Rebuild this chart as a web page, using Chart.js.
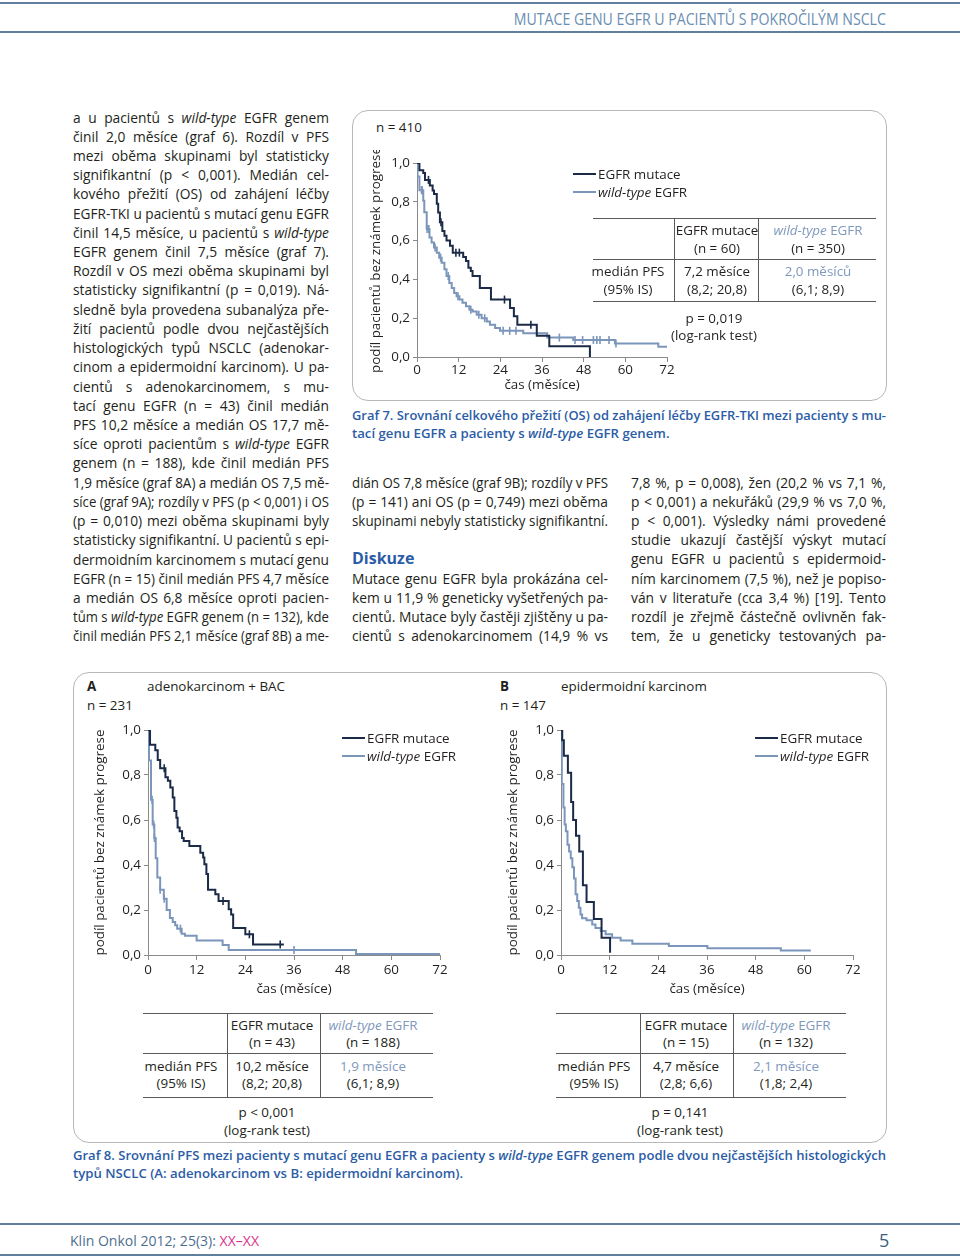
<!DOCTYPE html>
<html lang="cs">
<head>
<meta charset="utf-8">
<title>Mutace genu EGFR u pacientů s pokročilým NSCLC</title>
<script src="https://cdn.jsdelivr.net/npm/chart.js@4.4.1/dist/chart.umd.min.js"></script>
<style>
  html, body { margin: 0; padding: 0; background: #fff; }
  #page { position: relative; width: 960px; height: 1257px; overflow: hidden;
          font-family: 'Open Sans', sans-serif; color: #231f20; }
  .ln { position: absolute; white-space: nowrap; font-size: 13.8px; line-height: 19px; height: 19px; }
  .ln > span { display: inline-block; transform-origin: 0 50%; }
  .rule { position: absolute; left: 0; width: 960px; height: 2px; background: #5f7f9c; }
  .box { position: absolute; border: 1px solid #b8b8b8; border-radius: 16px; }
  .hl { position: absolute; height: 1px; background: #5a5a5a; }
  .vl { position: absolute; width: 1px; background: #5a5a5a; }
  .c { position: absolute; white-space: nowrap; font-size: 13.4px; line-height: 18px;
       transform: translate(-50%, -50%); }
  .t { position: absolute; white-space: nowrap; font-size: 13.4px; line-height: 18px; transform: translateY(-50%); }
  .lt { color: #7f98bc; }
  .blue { color: #2b5da6; font-weight: 600; }
  .sw { position: absolute; height: 2px; width: 23px; }
  canvas { position: absolute; }
</style>
</head>
<body>
<div id="page">
  <div class="rule" style="top:2px"></div>
  <div class="rule" style="top:31px"></div>
  <div class="rule" style="top:1223px"></div>
  <div class="rule" style="top:1254px"></div>

  <div class="box" style="left:352px;top:110px;width:533px;height:289px"></div>
  <div class="box" style="left:73px;top:672px;width:812px;height:469px"></div>

  <canvas id="c7" width="323" height="247" style="left:364px;top:150px"></canvas>
  <canvas id="cA" width="372" height="286" style="left:88px;top:715px"></canvas>
  <canvas id="cB" width="372" height="286" style="left:501px;top:715px"></canvas>
</div>
<script>
// osa x (měsíce) a osa y (podíl)
const xTicks = [0, 12, 24, 36, 48, 60, 72];
const xTickLabels = ['0', '12', '24', '36', '48', '60', '72'];
const yTicks = [0, 0.2, 0.4, 0.6, 0.8, 1.0];
const yTickLabels = ['0,0', '0,2', '0,4', '0,6', '0,8', '1,0'];
const seriesNames = ['EGFR mutace', 'wild-type EGFR'];

// Graf 7 (n = 410)
const g7MutTime = [0, 0.7, 1.8, 2.3, 3.7, 4.5, 4.9, 5.7, 6.1, 6.6, 7.3, 7.9, 8.5, 9.5, 10.3, 13.3, 14.1, 14.8, 15.5, 16.0, 18.1, 21.3, 26.8, 27.9, 28.9, 34.5, 38.1, 49.8];
const g7MutSurv = [1.0, 0.962, 0.948, 0.913, 0.884, 0.858, 0.84, 0.79, 0.745, 0.694, 0.65, 0.625, 0.6, 0.573, 0.538, 0.515, 0.495, 0.46, 0.443, 0.417, 0.356, 0.296, 0.253, 0.21, 0.166, 0.11, 0.055, 0];
const g7MutCens = [3.3, 6.9, 11.2, 12.2, 25.2, 32.8];
const g7WtTime = [0, 0.15, 0.7, 1.8, 2.1, 2.8, 3.6, 4.2, 4.9, 5.7, 6.4, 7.1, 7.9, 8.5, 9.3, 10.0, 10.7, 11.4, 12.2, 13.1, 14.1, 15.1, 16.0, 17.2, 18.6, 20.1, 21.0, 22.5, 23.9, 30.6, 37.5, 45.0, 57.0, 69.5, 72];
const g7WtSurv = [1.0, 0.93, 0.86, 0.806, 0.746, 0.66, 0.616, 0.59, 0.564, 0.538, 0.512, 0.486, 0.452, 0.417, 0.382, 0.356, 0.33, 0.313, 0.296, 0.279, 0.261, 0.244, 0.235, 0.218, 0.2, 0.183, 0.166, 0.149, 0.135, 0.123, 0.10, 0.088, 0.07, 0.053, 0.053];
const g7WtCens = [1.3, 1.5, 2.9, 3.4, 5.2, 6.8, 9.0, 11.8, 15.5, 17.8, 19.5, 24.8, 26.7, 28.5, 41.0, 45.5, 47.7, 50.8, 51.8, 52.7, 55.3, 57.3];

// Graf 8A adenokarcinom + BAC (n = 231)
const aMutTime = [0, 0.5, 1.8, 2.4, 3.0, 4.3, 4.9, 5.5, 6.1, 6.5, 7.0, 7.3, 7.8, 8.4, 8.8, 10.2, 12.9, 13.6, 13.9, 14.4, 14.8, 16.6, 17.4, 19.9, 20.5, 21.0, 24.0, 25.9, 33.5];
const aMutSurv = [1.0, 0.935, 0.91, 0.867, 0.83, 0.79, 0.775, 0.745, 0.70, 0.64, 0.61, 0.567, 0.55, 0.52, 0.507, 0.485, 0.455, 0.433, 0.403, 0.36, 0.29, 0.27, 0.24, 0.203, 0.18, 0.12, 0.092, 0.047, 0.047];
const aMutCens = [4.0, 18.5, 25.0, 32.6];
const aWtTime = [0, 0.25, 0.74, 1.15, 1.56, 1.9, 2.3, 3.0, 3.9, 4.6, 5.4, 6.1, 6.7, 7.2, 8.3, 9.1, 12.0, 18.4, 19.9, 51.3, 72];
const aWtSurv = [1.0, 0.865, 0.69, 0.58, 0.52, 0.43, 0.345, 0.29, 0.25, 0.20, 0.165, 0.147, 0.132, 0.117, 0.094, 0.086, 0.064, 0.044, 0.022, 0.005, 0.005];
const aWtCens = [1.0, 1.4, 1.6, 3.0, 4.0, 8.0, 36.0];

// Graf 8B epidermoidní karcinom (n = 147)
const bMutTime = [0, 0.3, 0.7, 1.7, 2.5, 3.0, 3.7, 4.5, 5.4, 6.3, 8.1, 10.0, 12.1];
const bMutSurv = [1.0, 0.955, 0.886, 0.81, 0.68, 0.60, 0.53, 0.46, 0.31, 0.236, 0.16, 0.077, 0.01];
const bMutCens = [];
const bWtTime = [0, 0.2, 0.6, 0.9, 1.2, 1.6, 2.0, 2.4, 2.8, 3.2, 3.6, 4.0, 4.4, 4.8, 5.2, 6.3, 7.7, 8.5, 9.8, 11.0, 12.6, 14.7, 17.6, 26.6, 36.1, 54.2, 61.6];
const bWtSurv = [1.0, 0.76, 0.656, 0.58, 0.55, 0.49, 0.46, 0.43, 0.39, 0.34, 0.27, 0.24, 0.21, 0.18, 0.163, 0.154, 0.136, 0.12, 0.107, 0.092, 0.077, 0.065, 0.05, 0.04, 0.03, 0.02, 0.02];
const bWtCens = [];

const COL_MUT = '#1b2a47';
const COL_WT = '#7b95bb';
const TXT = '#231f20';
const FONT = "'Open Sans', sans-serif";

Chart.defaults.font.family = FONT;
Chart.defaults.font.size = 13.4;
Chart.defaults.color = TXT;

function steps(t, s) { return t.map((x, i) => ({ x: x, y: s[i] })); }
function survAt(t, s, x) {
  let v = s[0];
  for (let i = 0; i < t.length; i++) if (t[i] <= x) v = s[i];
  return v;
}
function marks(t, s, c) { return c.map(x => ({ x: x, y: survAt(t, s, x) })); }

function drawKM(id, yw, xh, padTop, xPad, mutT, mutS, mutC, wtT, wtS, wtC) {
  const axisCol = '#8a8a8a';
  return new Chart(document.getElementById(id), {
    type: 'line',
    data: {
      datasets: [
        { label: seriesNames[0], data: steps(mutT, mutS), stepped: true, borderColor: COL_MUT, borderWidth: 2, pointRadius: 0, fill: false },
        { label: 'cens1', data: marks(mutT, mutS, mutC), showLine: false, pointStyle: 'line', pointRadius: 4,
          pointRotation: 90, pointBorderColor: COL_MUT, borderColor: COL_MUT, pointBorderWidth: 1.6 },
        { label: seriesNames[1], data: steps(wtT, wtS), stepped: true, borderColor: COL_WT, borderWidth: 2, pointRadius: 0, fill: false },
        { label: 'cens2', data: marks(wtT, wtS, wtC), showLine: false, pointStyle: 'line', pointRadius: 4,
          pointRotation: 90, pointBorderColor: COL_WT, borderColor: COL_WT, pointBorderWidth: 1.6 }
      ]
    },
    options: {
      responsive: false,
      animation: false,
      events: [],
      layout: { padding: { top: padTop, right: 20, left: 0, bottom: 0 } },
      plugins: { legend: { display: false }, tooltip: { enabled: false } },
      scales: {
        x: {
          type: 'linear', min: 0, max: 72,
          afterBuildTicks: s => { s.ticks = xTicks.map(v => ({ value: v })); },
          afterFit: s => { s.height = xh; },
          ticks: { autoSkip: false, maxRotation: 0, padding: xPad, callback: (v, i) => xTickLabels[i] },
          grid: { drawOnChartArea: false, drawTicks: true, tickLength: 5, color: axisCol },
          border: { color: axisCol, width: 1 },
          title: { display: true, text: 'čas (měsíce)', padding: { top: 0, bottom: 4 } }
        },
        y: {
          type: 'linear', min: 0, max: 1,
          afterBuildTicks: s => { s.ticks = yTicks.map(v => ({ value: v })); },
          afterFit: s => { s.width = yw; },
          ticks: { autoSkip: false, padding: 3, callback: (v, i) => yTickLabels[i] },
          grid: { drawOnChartArea: false, drawTicks: true, tickLength: 4, color: axisCol },
          border: { color: axisCol, width: 1 },
          title: { display: true, text: 'podíl pacientů bez známek progrese', padding: { top: 4, bottom: 0 } }
        }
      }
    }
  });
}

drawKM('c7', 53, 40, 13, 0, g7MutTime, g7MutSurv, g7MutCens, g7WtTime, g7WtSurv, g7WtCens);
drawKM('cA', 60, 46, 15, 2, aMutTime, aMutSurv, aMutCens, aWtTime, aWtSurv, aWtCens);
drawKM('cB', 60, 46, 15, 2, bMutTime, bMutSurv, bMutCens, bWtTime, bWtSurv, bWtCens);

// ---- texty stránky ----
const page = document.getElementById('page');
const fitList = [];

function addLine(html, x, y, w, justify, extra) {
  const d = document.createElement('div');
  d.className = 'ln';
  d.style.left = x + 'px';
  d.style.top = (y - 9.5) + 'px';
  if (extra) d.style.cssText += extra;
  d.innerHTML = '<span>' + html + '</span>';
  page.appendChild(d);
  fitList.push({ el: d, w: w, justify: justify });
}
function addText(cls, html, x, y, style) {
  const d = document.createElement('div');
  d.className = cls;
  d.style.left = x + 'px';
  d.style.top = y + 'px';
  if (style) d.style.cssText += style;
  d.innerHTML = html;
  page.appendChild(d);
  return d;
}
function hl(x1, x2, y) { addText('hl', '', x1, y, 'width:' + (x2 - x1) + 'px'); }
function vl(x, y1, y2) { addText('vl', '', x, y1, 'height:' + (y2 - y1) + 'px'); }

const leftCol = [
  'a u pacientů s <i>wild-type</i> EGFR genem',
  'činil 2,0 měsíce (graf 6). Rozdíl v PFS',
  'mezi oběma skupinami byl statisticky',
  'signifikantní (p &lt; 0,001). Medián cel-',
  'kového přežití (OS) od zahájení léčby',
  'EGFR-TKI u pacientů s mutací genu EGFR',
  'činil 14,5 měsíce, u pacientů s <i>wild-type</i>',
  'EGFR genem činil 7,5 měsíce (graf 7).',
  'Rozdíl v OS mezi oběma skupinami byl',
  'statisticky signifikantní (p = 0,019). Ná-',
  'sledně byla provedena subanalýza pře-',
  'žití pacientů podle dvou nejčastějších',
  'histologických typů NSCLC (adenokar-',
  'cinom a epidermoidní karcinom). U pa-',
  'cientů s adenokarcinomem, s mu-',
  'tací genu EGFR (n = 43) činil medián',
  'PFS 10,2 měsíce a medián OS 17,7 mě-',
  'síce oproti pacientům s <i>wild-type</i> EGFR',
  'genem (n = 188), kde činil medián PFS',
  '1,9 měsíce (graf 8A) a medián OS 7,5 mě-',
  'síce (graf 9A); rozdíly v PFS (p &lt; 0,001) i OS',
  '(p = 0,010) mezi oběma skupinami byly',
  'statisticky signifikantní. U pacientů s epi-',
  'dermoidním karcinomem s mutací genu',
  'EGFR (n = 15) činil medián PFS 4,7 měsíce',
  'a medián OS 6,8 měsíce oproti pacien-',
  'tům s <i>wild-type</i> EGFR genem (n = 132), kde',
  'činil medián PFS 2,1 měsíce (graf 8B) a me-'
];
leftCol.forEach((s, i) => addLine(s, 73, 117 + i * 19.22, 256, true));

const midCol = [
  ['dián OS 7,8 měsíce (graf 9B); rozdíly v PFS', true],
  ['(p = 141) ani OS (p = 0,749) mezi oběma', true],
  ['skupinami nebyly statisticky signifikantní.', false],
  null,
  null,
  ['Mutace genu EGFR byla prokázána cel-', true],
  ['kem u 11,9 % geneticky vyšetřených pa-', true],
  ['cientů. Mutace byly častěji zjištěny u pa-', true],
  ['cientů s adenokarcinomem (14,9 % vs', true]
];
midCol.forEach((r, i) => { if (r) addLine(r[0], 352, 482 + i * 19.2, 256, r[1]); });
addText('t blue', 'Diskuze', 352, 558, 'font-size:16px;font-weight:700');

const rightCol = [
  '7,8 %, p = 0,008), žen (20,2 % vs 7,1 %,',
  'p &lt; 0,001) a nekuřáků (29,9 % vs 7,0 %,',
  'p &lt; 0,001). Výsledky námi provedené',
  'studie ukazují častější výskyt mutací',
  'genu EGFR u pacientů s epidermoid-',
  'ním karcinomem (7,5 %), než je popiso-',
  'ván v literatuře (cca 3,4 %) [19]. Tento',
  'rozdíl je zřejmě částečně ovlivněn fak-',
  'tem, že u geneticky testovaných pa-'
];
rightCol.forEach((s, i) => addLine(s, 631, 482 + i * 19.2, 255, true));

// popisky grafů
const capStyle = 'color:#2b5da6;font-weight:600;font-size:13.2px;';
addLine('Graf 7. Srovnání celkového přežití (OS) od zahájení léčby EGFR-TKI mezi pacienty s mu-', 352, 415, 534, true, capStyle);
addLine('tací genu EGFR a pacienty s <i>wild-type</i> EGFR genem.', 352, 433, 534, false, capStyle);
addLine('Graf 8. Srovnání PFS mezi pacienty s mutací genu EGFR a pacienty s <i>wild-type</i> EGFR genem podle dvou nejčastějších histologických', 73, 1155, 813, true, capStyle);
addLine('typů NSCLC (A: adenokarcinom vs B: epidermoidní karcinom).', 73, 1173, 813, false, capStyle);

// záhlaví a zápatí
const head = addText('t', '<span style="display:inline-block;transform-origin:100% 50%">MUTACE GENU EGFR U PACIENTŮ S POKROČILÝM NSCLC</span>',
  0, 19, 'width:886px;text-align:right;font-size:16px;color:#6a8eb2;');
const foot = addText('t', '<span style="display:inline-block;transform-origin:0 50%">Klin Onkol 2012; 25(3): <span style="color:#d9318a">XX–XX</span></span>',
  70, 1240, 'font-size:15px;color:#4f6f8f;');
addText('t', '5', 879, 1240, 'font-size:18px;color:#3a5e80;');

// popisky uvnitř grafů
addText('t', 'n = 410', 376, 127);
addText('t', '<b>A</b>', 87, 686);
addText('t', 'adenokarcinom + BAC', 147, 686);
addText('t', 'n = 231', 87, 705);
addText('t', '<b>B</b>', 500, 686);
addText('t', 'epidermoidní karcinom', 561, 686);
addText('t', 'n = 147', 500, 705);

function legend(x, y) {
  addText('sw', '', x, y - 1, 'background:' + COL_MUT);
  addText('sw', '', x, y + 17, 'background:' + COL_WT);
  addText('t', seriesNames[0], x + 25, y);
  addText('t', '<i>wild-type</i> EGFR', x + 25, y + 18);
}
legend(573, 174);
legend(342, 738);
legend(755, 738);

// tabulky
function table(cfg) {
  hl(cfg.x0, cfg.x3, cfg.y0);
  hl(cfg.x0, cfg.x3, cfg.y1);
  hl(cfg.x0, cfg.x3, cfg.y2);
  vl(cfg.x1, cfg.y0, cfg.y2);
  vl(cfg.x2, cfg.y0, cfg.y2);
  const r = cfg.rows;
  addText('c', 'EGFR mutace', cfg.c2, r[0]);
  addText('c', cfg.nMut, cfg.c2, r[1]);
  addText('c lt', '<i>wild-type</i> EGFR', cfg.c3, r[0]);
  addText('c', cfg.nWt, cfg.c3, r[1]);
  addText('c', 'medián PFS', cfg.c1, r[2]);
  addText('c', '(95% IS)', cfg.c1, r[3]);
  addText('c', cfg.medMut, cfg.c2, r[2]);
  addText('c', cfg.ciMut, cfg.c2, r[3]);
  addText('c lt', cfg.medWt, cfg.c3, r[2]);
  addText('c', cfg.ciWt, cfg.c3, r[3]);
  addText('c', cfg.p, cfg.cp, r[4]);
  addText('c', '(log-rank test)', cfg.cp, r[5]);
}
table({ x0: 593, x1: 674, x2: 758, x3: 876, y0: 218, y1: 259, y2: 301,
  c1: 628, c2: 717, c3: 818, cp: 714, rows: [230, 248, 271, 289, 318, 335],
  nMut: '(n = 60)', nWt: '(n = 350)', medMut: '7,2 měsíce', ciMut: '(8,2; 20,8)',
  medWt: '2,0 měsíců', ciWt: '(6,1; 8,9)', p: 'p = 0,019' });
table({ x0: 143, x1: 227, x2: 320, x3: 433, y0: 1013, y1: 1053, y2: 1097,
  c1: 181, c2: 272, c3: 373, cp: 267, rows: [1025, 1042, 1066, 1083, 1112, 1130],
  nMut: '(n = 43)', nWt: '(n = 188)', medMut: '10,2 měsíce', ciMut: '(8,2; 20,8)',
  medWt: '1,9 měsíce', ciWt: '(6,1; 8,9)', p: 'p &lt; 0,001' });
table({ x0: 556, x1: 640, x2: 733, x3: 846, y0: 1013, y1: 1053, y2: 1097,
  c1: 594, c2: 686, c3: 786, cp: 680, rows: [1025, 1042, 1066, 1083, 1112, 1130],
  nMut: '(n = 15)', nWt: '(n = 132)', medMut: '4,7 měsíce', ciMut: '(2,8; 6,6)',
  medWt: '2,1 měsíce', ciWt: '(1,8; 2,4)', p: 'p = 0,141' });

// zarovnání řádků do bloku
function fitAll() {
  fitList.forEach(f => {
    const sp = f.el.firstChild;
    sp.style.transform = '';
    sp.style.wordSpacing = '';
    const nat = sp.getBoundingClientRect().width;
    if (nat > f.w) {
      sp.style.transform = 'scaleX(' + (f.w / nat) + ')';
    } else if (f.justify) {
      const n = (sp.textContent.match(/ /g) || []).length;
      if (n) sp.style.wordSpacing = ((f.w - nat) / n) + 'px';
    }
  });
  const hs = head.firstChild;
  hs.style.transform = '';
  hs.style.transform = 'scaleX(' + (372 / hs.getBoundingClientRect().width) + ')';
  const fs = foot.firstChild;
  fs.style.transform = '';
  fs.style.transform = 'scaleX(' + (189 / fs.getBoundingClientRect().width) + ')';
}
fitAll();
if (document.fonts && document.fonts.ready) document.fonts.ready.then(fitAll);
</script>
</body>
</html>
